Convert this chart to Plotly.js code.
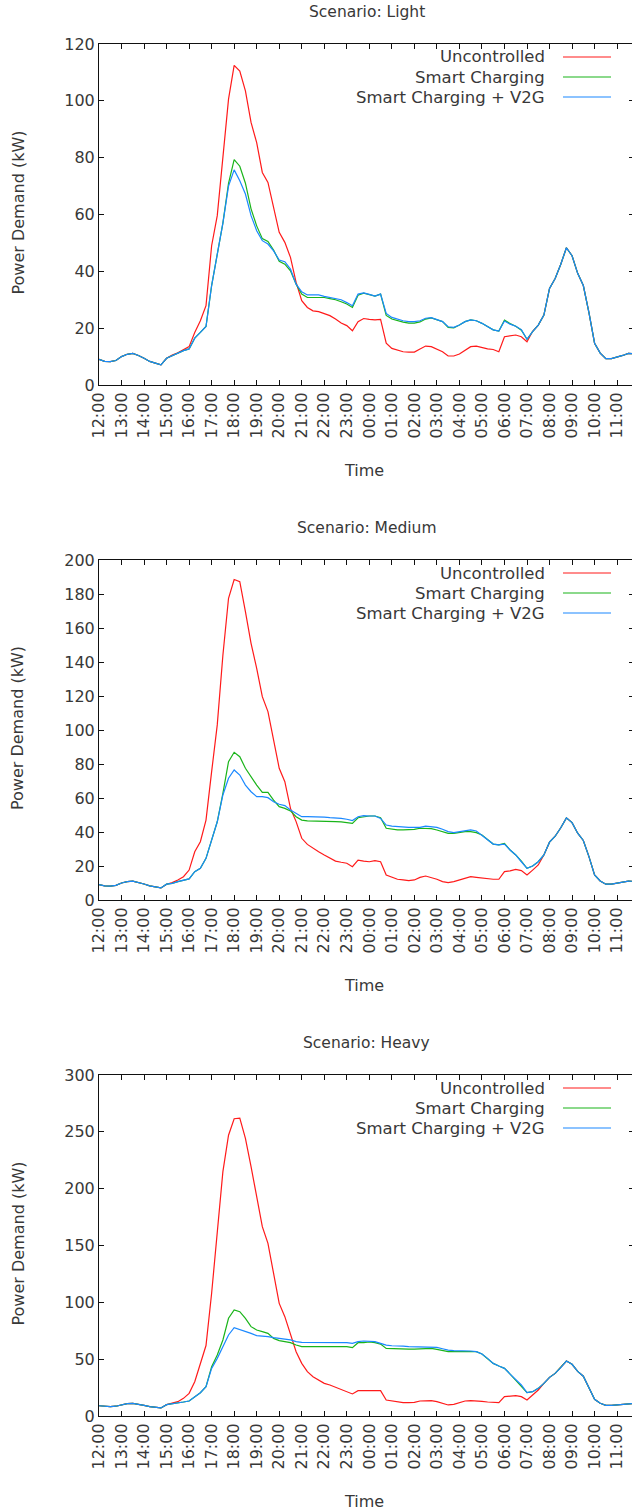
<!DOCTYPE html>
<html>
<head>
<meta charset="utf-8">
<script src="https://cdn.plot.ly/plotly-3.0.1.min.js"></script>
<style>
  html, body { margin: 0; padding: 0; overflow: hidden; background: #fff; }
  #chart { width: 634px; height: 1512px; }
</style>
</head>
<body>
<div id="chart"></div>
<script>
// ---- time grid (15-minute samples, 12:00 -> 11:45 next day) ----
const times = [
  "12:00","12:15","12:30","12:45","13:00","13:15","13:30","13:45",
  "14:00","14:15","14:30","14:45","15:00","15:15","15:30","15:45",
  "16:00","16:15","16:30","16:45","17:00","17:15","17:30","17:45",
  "18:00","18:15","18:30","18:45","19:00","19:15","19:30","19:45",
  "20:00","20:15","20:30","20:45","21:00","21:15","21:30","21:45",
  "22:00","22:15","22:30","22:45","23:00","23:15","23:30","23:45",
  "00:00","00:15","00:30","00:45","01:00","01:15","01:30","01:45",
  "02:00","02:15","02:30","02:45","03:00","03:15","03:30","03:45",
  "04:00","04:15","04:30","04:45","05:00","05:15","05:30","05:45",
  "06:00","06:15","06:30","06:45","07:00","07:15","07:30","07:45",
  "08:00","08:15","08:30","08:45","09:00","09:15","09:30","09:45",
  "10:00","10:15","10:30","10:45","11:00","11:15","11:30","11:45"
];

// shared base load, 12:00-14:45 (same in every scenario)
const noonBase = [9.0, 8.3, 8.2, 8.6, 10.0, 10.8, 11.1, 10.4, 9.4, 8.3, 7.7, 7.1];
// shared base load, 08:00-11:45 (same in every scenario)
const morningBase = [34, 37.5, 42.5, 48.3, 45.5, 39.3, 35, 25.5, 14.7, 11.2, 9.3, 9.3, 9.8, 10.4, 11.1, 11];

// scenario-specific part, 15:00-07:45 (kW)
const lightUncontrolled = [
  9.4,10.5,11.3,12.5, 13.5,18.5,22.6,27.9, 49,59.6,79,100.6, 112.5,110.5,103.5,92.4,
  85.3,74.8,71.3,63, 53.7,50.2,44.9,36.1, 29.7,27.3,26.1,25.8, 25,24.4,23.2,21.8,
  20.9,19.1,22.3,23.4, 23.1,22.9,23.1,14.7, 12.9,12.3,11.7,11.6, 11.6,12.7,13.7,13.5,
  12.5,11.7,10.2,10.2, 10.9,12.3,13.5,13.7, 13.2,12.7,12.5,11.7, 17,17.2,17.6,17,
  15.2,18.9,21.1,24.6
];
const lightSmart = [
  9.4,10.3,11.0,12.1, 12.7,16.5,18.5,20.6, 35,46,57,71, 79.3,77,71,62,
  56,51.5,50.5,47.5, 43.5,42.5,40.2,35.5, 32,30.8,30.8,31, 30.8,30.4,30,29.3,
  28.5,27.3,31.6,32.3, 31.9,31.3,32,24.5, 23.2,22.6,22.1,21.8, 21.8,22.2,23.2,23.6,
  22.9,22.3,20.3,20.1, 21.1,22.3,22.9,22.6, 21.7,20.5,19.4,19.0, 22.8,21.6,20.7,19.3,
  16.1,18.8,21.1,24.6
];
const lightV2G = [
  9.4,10.3,11.0,12.1, 12.7,16.5,18.5,20.6, 35,46,57,70, 75.7,71.9,67.2,59.6,
  54.3,50.8,49.6,47.2, 44,43.4,40.8,35.5, 32.8,31.7,31.7,31.7, 31.2,30.8,30.5,30,
  29,27.9,32,32.4, 31.9,31.3,32,25.2, 23.8,23.1,22.6,22.3, 22.3,22.6,23.5,23.7,
  22.9,22.3,20.5,20.3, 21.1,22.3,22.9,22.6, 21.7,20.5,19.4,19.0, 22.5,21.4,20.7,19.5,
  16.1,18.8,21.1,24.6
];

const mediumUncontrolled = [
  9.3,10.2,11.8,13.7, 17.6,28.4,34.3,47, 75.5,103,144,177.5, 188.5,187.3,169.6,151,
  136.3,119.6,110.8,93.1, 77.5,69.6,53.9,46.1, 36.3,32.7,30.4,28.4, 26.5,24.5,22.9,22.2,
  21.6,19.6,23.5,22.9, 22.5,23.1,22.5,14.7, 13.3,12.2,11.8,11.4, 11.8,13.3,14.1,13.3,
  12.2,10.8,10.2,10.8, 11.8,12.7,13.7,13.3, 12.9,12.7,12.2,12.2, 16.7,17.1,18,17.3,
  14.7,17.6,20.6,26.5
];
const mediumSmart = [
  9.3,9.8,10.8,11.8, 12.4,16.7,18.6,24.5, 35.3,46,62.7,81.4, 86.9,84.3,77.5,72.5,
  67.6,63.3,63.3,58.8, 54.9,53.9,52.4,49, 47,46.5,46.5,46.5, 46.5,46.3,46.1,45.9,
  45.5,45.1,48.4,49, 49.4,49.4,48.4,42.2, 41.6,41.2,41.2,41.2, 41.6,42.2,42.2,42,
  41.2,40.2,39.2,39.2, 39.8,40.2,40.2,39.6, 38.2,35.7,32.9,32.4, 33.3,29.4,26.5,22.8,
  18.6,20,22.5,26.5
];
const mediumV2G = [
  9.3,9.8,10.8,11.8, 12.4,16.7,18.6,24.5, 35.3,46,61.8,71.6, 76.5,73.5,67.6,63.7,
  60.8,60.8,60.2,57.8, 56.3,55.5,52.9,51, 49,49,49,48.8, 48.8,48.4,48.4,48,
  47.5,46.7,49,49.6, 49.4,49.4,48,44.1, 43.5,43.1,42.7,42.7, 42.7,42.7,43.5,43.1,
  42.7,41.6,40.2,39.6, 40.2,40.8,41.2,40.6, 38.2,35.7,32.9,32.4, 32.9,29.4,26.5,22.5,
  18.6,20,22.5,26.5
];

const heavyUncontrolled = [
  10,11.1,12.6,15.5, 19.9,30.2,46,62, 108,165,215,247, 261.5,262,244.3,219.4,
  193,166.6,151.9,125.5, 99.1,87.4,72.7,56.6, 46.3,39,34.6,31.7, 28.7,27.3,25.2,22.9,
  21.4,19.4,22.3,22.3, 22.3,22.9,22.3,14.1, 13.2,12.3,11.7,11.7, 12,13.2,13.5,13.5,
  12.6,11.1,9.7,10.3, 11.7,13.2,13.5,13.5, 12.9,12.3,12.3,11.7, 17,17.6,17.9,17,
  14.1,18.5,22.9,28.7
];
const heavySmart = [
  10,10.6,11.1,12.3, 13.2,17,20.5,25.8, 43.4,53.7,66.9,86, 93.3,91.8,85.9,78.6,
  75.7,74.2,72.7,68.3, 66.3,65.4,64.5,62.5, 61,61,61,61, 61,61,61,61,
  61,60.1,64.5,64.5, 65.1,64.5,63.3,59.5, 59.2,58.9,58.9,58.9, 58.9,59.2,59.5,59.5,
  58.6,57.5,56.6,56.6, 56.6,56.6,56.6,56.6, 54.5,50.7,46.3,44, 41.9,36.9,31.7,26.5,
  20.5,21.4,24.3,28.7
];
const heavyV2G = [
  10,10.6,11.1,12.3, 13.2,17,20.5,25.8, 41.9,50.7,61,71.3, 77.7,76.2,74.2,72.7,
  70.7,70.4,69.8,68.9, 68,67.7,66.9,65.4, 64.8,64.8,64.8,64.8, 64.8,64.8,64.8,64.5,
  64.5,63.9,65.4,66, 66,65.4,63.9,62.4, 61.8,61.8,61.5,61, 61,61,61,61,
  60.4,59.2,58,57.5, 57.5,57.5,57.2,56.6, 54.5,50.7,46.3,44, 41.9,36.9,31.7,27.3,
  20.5,21.4,24.3,28.7
];

const scenarioNames = ["Light", "Medium", "Heavy"];
const seriesNames = ["Uncontrolled", "Smart Charging", "Smart Charging + V2G"];
const seriesColors = ["#ff1a1a", "#19b419", "#1a88ff"];
const yMax = [120, 200, 300];
const yStep = [20, 20, 50];
const scenarioData = [
  [lightUncontrolled, lightSmart, lightV2G],
  [mediumUncontrolled, mediumSmart, mediumV2G],
  [heavyUncontrolled, heavySmart, heavyV2G]
];

// ---- build ----
const xDates = times.map(t => (parseInt(t.slice(0, 2), 10) >= 12 ? "2000-01-01 " : "2000-01-02 ") + t);
const full = mid => noonBase.concat(mid, morningBase);

const H = 1512, L = 99, PW = 535;
const plotTop = [44, 560, 1075];
const plotBot = [385, 900, 1416];
const py = v => 1 - v / H;
const px = v => (v - L) / PW;

const textColor = "#383838";
const traces = [];
const annotations = [];
const shapes = [];
const layout = {
  width: 634, height: H,
  margin: { l: L, r: 0, t: 0, b: 0 },
  paper_bgcolor: "#fff", plot_bgcolor: "#fff",
  showlegend: false,
  font: { family: "DejaVu Sans", size: 16, color: textColor }
};

scenarioData.forEach((sd, i) => {
  const n = i + 1;
  const xa = n === 1 ? "x" : "x" + n;
  const ya = n === 1 ? "y" : "y" + n;
  sd.forEach((mid, j) => {
    traces.push({
      type: "scatter", mode: "lines", name: seriesNames[j],
      x: xDates, y: full(mid), xaxis: xa, yaxis: ya,
      line: { color: seriesColors[j], width: 1.2 },
      hoverinfo: "skip"
    });
  });
  layout["xaxis" + (n === 1 ? "" : n)] = {
    anchor: ya, domain: [0, 1], type: "date",
    range: ["2000-01-01 12:00", "2000-01-02 11:45"],
    tick0: "2000-01-01 12:00", dtick: 3600000, tickformat: "%H:%M",
    tickangle: -90, ticks: "inside", ticklen: 5, tickcolor: "#111",
    showline: true, linecolor: "#111", linewidth: 1, mirror: "ticks",
    showgrid: false, zeroline: false, automargin: false,
    tickfont: { family: "DejaVu Sans", size: 16, color: textColor }
  };
  layout["yaxis" + (n === 1 ? "" : n)] = {
    anchor: xa, domain: [py(plotBot[i]), py(plotTop[i])],
    range: [0, yMax[i]], dtick: yStep[i], tick0: 0,
    ticks: "inside", ticklen: 5, tickcolor: "#111",
    showline: true, linecolor: "#111", linewidth: 1, mirror: "ticks",
    showgrid: false, zeroline: false, automargin: false,
    tickfont: { family: "DejaVu Sans", size: 16, color: textColor }
  };
  const top = plotTop[i], bot = plotBot[i];
  // plot title
  annotations.push({ text: "Scenario: " + scenarioNames[i], xref: "paper", yref: "paper",
    x: 0.5, y: py(top - 32), xanchor: "center", yanchor: "middle", showarrow: false,
    font: { size: 15.5, color: textColor } });
  // x-axis title
  annotations.push({ text: "Time", xref: "paper", yref: "paper",
    x: 0.495, y: py(bot + 85), xanchor: "center", yanchor: "middle", showarrow: false,
    font: { size: 16, color: textColor } });
  // y-axis title
  annotations.push({ text: "Power Demand (kW)", xref: "paper", yref: "paper",
    x: px(18), y: py((top + bot) / 2 - 2), xanchor: "center", yanchor: "middle", showarrow: false,
    textangle: -90, font: { size: 16, color: textColor } });
  // key (text left, sample right, as in the original)
  seriesNames.forEach((name, j) => {
    const ry = top + 13 + 20 * j;
    annotations.push({ text: name, xref: "paper", yref: "paper",
      x: px(547), y: py(ry), xanchor: "right", yanchor: "middle", showarrow: false,
      font: { size: 16.5, color: textColor } });
    shapes.push({ type: "line", xref: "paper", yref: "paper",
      x0: px(563), x1: px(611), y0: py(ry), y1: py(ry),
      line: { color: seriesColors[j], width: 1.2 } });
  });
});
layout.annotations = annotations;
layout.shapes = shapes;

Plotly.newPlot("chart", traces, layout, { staticPlot: true, displayModeBar: false });
</script>
</body>
</html>
